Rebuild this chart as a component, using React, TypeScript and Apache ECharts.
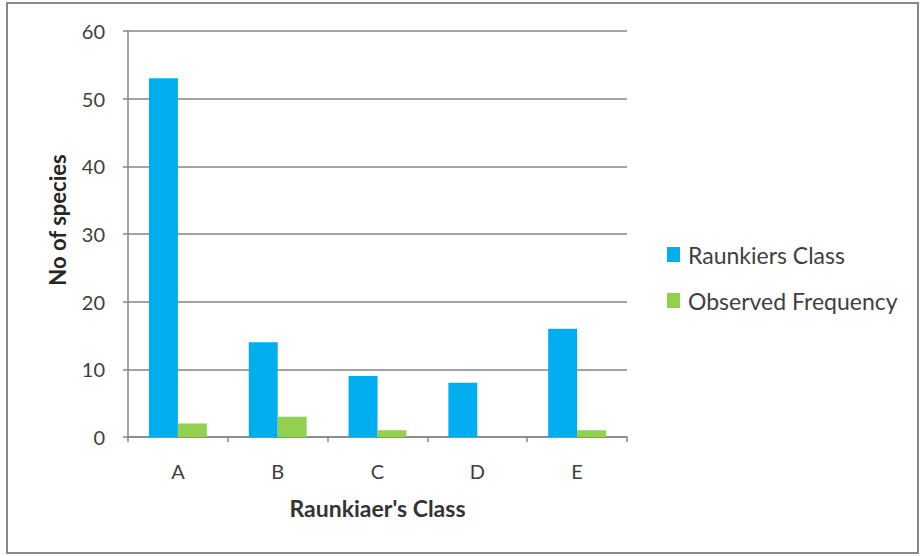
import React, { useEffect, useRef } from "react";
import * as echarts from "echarts";

const categories = ["A", "B", "C", "D", "E"];
const raunkiersClass = [53, 14, 9, 8, 16];
const observedFrequency = [2, 3, 1, 0, 1];
const yTicks = [0, 10, 20, 30, 40, 50, 60];

const FONT = "Lato, 'Noto Sans', sans-serif";

export default function App() {
  const ref = useRef<HTMLDivElement>(null);
  useEffect(() => {
    document.body.style.margin = "0";
    const chart = echarts.init(ref.current!, null, { renderer: "svg" });
    chart.setOption({
      animation: false,
      backgroundColor: "#ffffff",
      textStyle: { fontFamily: FONT },
      grid: { left: 128, right: 295, top: 31, bottom: 119 },
      legend: {
        orient: "vertical",
        left: 667,
        top: 243,
        padding: 0,
        itemWidth: 13,
        itemHeight: 15,
        itemGap: 23,
        icon: "rect",
        textStyle: { fontSize: 23, color: "#404040", fontFamily: FONT, padding: [0, 0, 0, 3] },
        data: ["Raunkiers Class", "Observed Frequency"],
      },
      xAxis: {
        type: "category",
        data: categories,
        name: "Raunkiaer's Class",
        nameLocation: "middle",
        nameGap: 59,
        nameTextStyle: { fontSize: 23, fontWeight: "bold", color: "#333333", fontFamily: FONT },
        axisLine: { lineStyle: { color: "#868686", width: 1.5 } },
        axisTick: { show: true, length: 5, lineStyle: { color: "#868686", width: 1.5 } },
        axisLabel: { fontSize: 20, color: "#404040", margin: 24, fontFamily: FONT },
      },
      yAxis: {
        type: "value",
        min: yTicks[0],
        max: yTicks[yTicks.length - 1],
        interval: 10,
        axisLine: { show: true, lineStyle: { color: "#868686", width: 1.5 } },
        axisTick: { show: true, length: 5, lineStyle: { color: "#868686", width: 1.5 } },
        axisLabel: { fontSize: 20, color: "#404040", margin: 23, fontFamily: FONT },
        splitLine: { show: true, lineStyle: { color: "#868686", width: 1.5 } },
      },
      graphic: [
        {
          type: "rect",
          shape: { x: 7, y: 3, width: 911, height: 550 },
          style: { fill: "none", stroke: "#888888", lineWidth: 2 },
          silent: true,
        },
        {
          type: "text",
          x: 57,
          y: 220,
          rotation: Math.PI / 2,
          style: {
            text: "No of species",
            fontSize: 22,
            fontWeight: "bold",
            fill: "#262626",
            fontFamily: FONT,
            align: "center",
            verticalAlign: "middle",
          },
        },
      ],
      series: [
        {
          name: "Raunkiers Class",
          type: "bar",
          data: raunkiersClass,
          itemStyle: { color: "#00AEEF" },
          barGap: "0%",
          barCategoryGap: "42%",
        },
        {
          name: "Observed Frequency",
          type: "bar",
          data: observedFrequency,
          itemStyle: { color: "#92D050" },
          barGap: "0%",
          barCategoryGap: "42%",
        },
      ],
    });
    return () => chart.dispose();
  }, []);
  return <div ref={ref} style={{ width: 922, height: 556 }} />;
}
